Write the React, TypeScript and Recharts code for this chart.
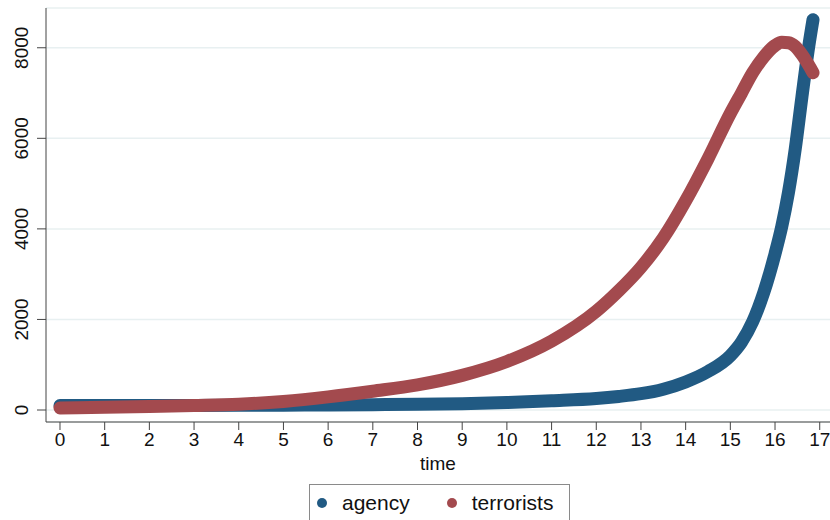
import { CartesianGrid, Legend, Line, LineChart, XAxis, YAxis } from "recharts"

const times = [0, 1, 2, 3, 4, 5, 6, 7, 8, 9, 10, 11, 12, 12.5, 13, 13.5, 14, 14.5, 15, 15.25, 15.5, 15.75, 16, 16.15, 16.3, 16.45, 16.6, 16.75, 16.85]
const agency = [100, 100, 101, 102, 104, 107, 112, 118, 125, 140, 165, 205, 255, 300, 360, 460, 620, 850, 1200, 1500, 1950, 2600, 3450, 4050, 4800, 5750, 6900, 8000, 8620]
const terrorists = [45, 58, 75, 98, 128, 190, 290, 415, 555, 765, 1070, 1520, 2180, 2630, 3150, 3800, 4620, 5550, 6550, 7000, 7450, 7800, 8050, 8120, 8110, 8030, 7850, 7620, 7450]
const xTicks = [0, 1, 2, 3, 4, 5, 6, 7, 8, 9, 10, 11, 12, 13, 14, 15, 16, 17]
const yTicks = [0, 2000, 4000, 6000, 8000]

const seriesColors = { agency: "#215a83", terrorists: "#a34a4e" }
const font = "'Liberation Sans', Arial, sans-serif"

const data = times.map((t, i) => ({ time: t, agency: agency[i], terrorists: terrorists[i] }))

function YTick({ x, y, payload }: any) {
  const cx = x - 14
  return (
    <text
      x={cx}
      y={y}
      transform={`rotate(-90, ${cx}, ${y})`}
      textAnchor="middle"
      dy={7}
      fontSize={19}
      fontFamily={font}
      fill="#111"
    >
      {payload.value}
    </text>
  )
}

function LegendBox() {
  const items = [
    { name: "agency", color: seriesColors.agency, gap: 37 },
    { name: "terrorists", color: seriesColors.terrorists, gap: 0 },
  ]
  return (
    <div
      style={{
        width: 261,
        height: 36,
        boxSizing: "border-box",
        border: "1px solid #8a8a8a",
        borderBottom: "none",
        display: "flex",
        alignItems: "center",
        paddingLeft: 7,
        fontFamily: font,
        fontSize: 21,
        color: "#111",
        whiteSpace: "nowrap",
      }}
    >
      {items.map((it) => (
        <span key={it.name} style={{ display: "flex", alignItems: "center", marginRight: it.gap }}>
          <span
            style={{ width: 10, height: 10, borderRadius: 5, background: it.color, display: "inline-block", marginRight: 15 }}
          />
          {it.name}
        </span>
      ))}
    </div>
  )
}

export default function App() {
  return (
    <div style={{ position: "absolute", left: 0, top: 0, background: "#fff" }}>
      <LineChart width={830} height={520} data={data} margin={{ top: 8, right: 0, bottom: 0, left: 0 }}>
        <CartesianGrid horizontal vertical={false} stroke="#e8f0f1" strokeWidth={1.5} />
        <XAxis
          dataKey="time"
          type="number"
          domain={[-0.313, 17.23]}
          ticks={xTicks}
          interval={0}
          allowDataOverflow
          height={62}
          tickSize={8}
          tickMargin={3}
          stroke="#444"
          tick={{ fontSize: 19, fontFamily: font, fill: "#111" }}
          label={{ value: "time", position: "insideBottom", offset: 14, fontSize: 19, fontFamily: font, fill: "#111" }}
        />
        <YAxis
          type="number"
          domain={[-265, 8878]}
          ticks={yTicks}
          interval={0}
          allowDataOverflow
          width={46}
          tickSize={9}
          stroke="#444"
          tick={<YTick />}
        />
        <Legend
          verticalAlign="bottom"
          content={() => <LegendBox />}
          wrapperStyle={{ left: 309, width: 261, height: 36 }}
        />
        <Line
          dataKey="agency"
          type="monotone"
          stroke={seriesColors.agency}
          strokeWidth={13}
          strokeLinecap="round"
          strokeLinejoin="round"
          dot={false}
          isAnimationActive={false}
        />
        <Line
          dataKey="terrorists"
          type="monotone"
          stroke={seriesColors.terrorists}
          strokeWidth={13}
          strokeLinecap="round"
          strokeLinejoin="round"
          dot={false}
          isAnimationActive={false}
        />
      </LineChart>
    </div>
  )
}
